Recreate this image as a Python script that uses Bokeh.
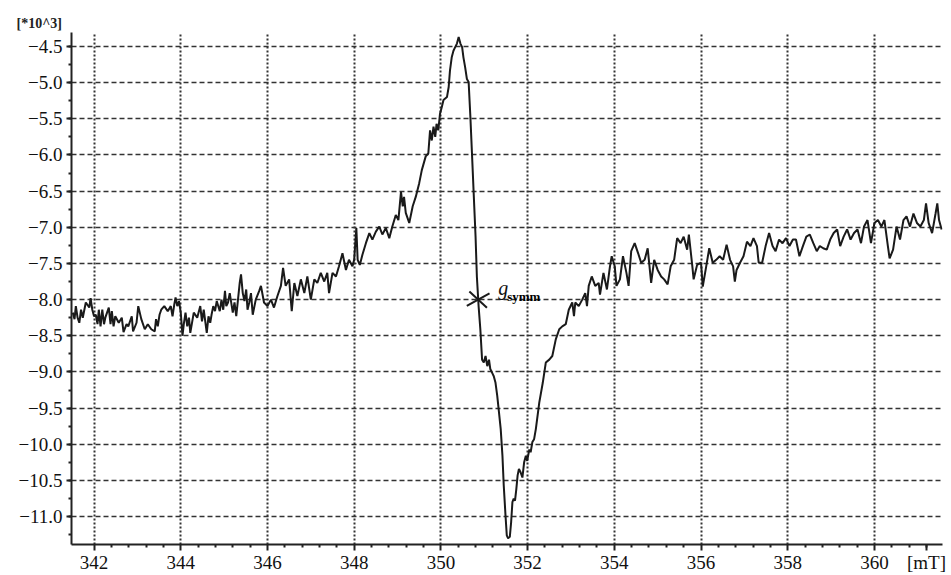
from bokeh.plotting import figure
from bokeh.models import SingleIntervalTicker, FixedTicker, Label, Range1d
from bokeh.embed import file_html
from bokeh.resources import INLINE

# ---- data (field in mT, signal in units of 10^3) ----
baseline_low = [
    (341.51, -8.18), (341.55, -8.27), (341.58, -8.09), (341.62, -8.25), (341.66, -8.32), (341.70, -8.14), (341.74, -8.25), (341.81, -8.04), (341.89, -8.11), (341.92, -7.98),
    (341.96, -8.14), (342.00, -8.23), (342.04, -8.21), (342.08, -8.34), (342.11, -8.14), (342.15, -8.37), (342.19, -8.14), (342.23, -8.34), (342.26, -8.25), (342.34, -8.11),
    (342.38, -8.34), (342.41, -8.16), (342.45, -8.37), (342.49, -8.23), (342.57, -8.32), (342.64, -8.25), (342.68, -8.45), (342.75, -8.34), (342.79, -8.37), (342.87, -8.23),
    (342.90, -8.44), (342.98, -8.32), (343.02, -8.09), (343.09, -8.27), (343.17, -8.41), (343.24, -8.34), (343.32, -8.41), (343.40, -8.44), (343.43, -8.27), (343.47, -8.37),
    (343.51, -8.21), (343.55, -8.14), (343.62, -8.09), (343.70, -8.16), (343.77, -8.09), (343.81, -8.23), (343.85, -8.07), (343.88, -7.97), (343.92, -8.09), (343.96, -8.02),
    (344.00, -8.18), (344.04, -8.50), (344.07, -8.34), (344.11, -8.18), (344.15, -8.37), (344.19, -8.25), (344.22, -8.46), (344.30, -8.18), (344.38, -8.25), (344.45, -8.09),
    (344.49, -8.30), (344.53, -8.14), (344.60, -8.46), (344.64, -8.23), (344.68, -8.32), (344.71, -8.21), (344.75, -8.09), (344.79, -8.16), (344.83, -8.02), (344.90, -8.16),
    (344.94, -8.00), (344.98, -8.14), (345.02, -7.88), (345.05, -8.09), (345.09, -8.04), (345.13, -7.91), (345.20, -8.18), (345.24, -8.04), (345.28, -8.23), (345.32, -8.00),
    (345.36, -7.77), (345.39, -7.65), (345.43, -7.91), (345.47, -8.02), (345.51, -7.86), (345.54, -8.14), (345.58, -8.04), (345.62, -7.91), (345.66, -8.21), (345.73, -8.00),
    (345.81, -7.88),
]

rising_part = [
    (345.85, -7.81), (345.92, -8.04), (346.00, -8.09), (346.08, -8.00), (346.15, -8.11), (346.23, -7.95), (346.31, -7.81), (346.36, -7.56), (346.42, -7.81), (346.50, -7.72),
    (346.56, -8.16), (346.62, -7.77), (346.69, -7.95), (346.77, -7.72), (346.85, -7.91), (346.92, -7.68), (347.00, -8.00), (347.08, -7.72), (347.15, -7.77), (347.23, -7.63),
    (347.31, -7.75), (347.38, -7.63), (347.42, -7.91), (347.50, -7.63), (347.58, -7.68), (347.65, -7.54), (347.73, -7.36), (347.81, -7.59), (347.88, -7.45), (347.96, -7.54),
    (348.00, -7.45), (348.05, -7.01), (348.08, -7.45), (348.13, -7.52), (348.19, -7.38), (348.27, -7.22), (348.35, -7.08), (348.42, -7.17), (348.50, -7.06), (348.58, -6.99),
    (348.65, -7.10), (348.73, -7.01), (348.81, -7.15), (348.88, -6.99), (348.96, -6.83), (349.02, -6.90), (349.08, -6.51), (349.12, -6.71), (349.15, -6.58), (349.19, -6.80),
    (349.27, -6.94), (349.35, -6.71), (349.42, -6.58), (349.50, -6.39), (349.56, -6.21), (349.65, -6.02),
]

resonance = [
    (349.71, -5.98), (349.75, -5.66), (349.79, -5.80), (349.83, -5.61), (349.87, -5.75), (349.90, -5.57), (349.94, -5.66), (349.98, -5.43), (350.02, -5.34), (350.06, -5.24),
    (350.10, -5.22), (350.14, -5.20), (350.18, -5.06), (350.21, -4.83), (350.25, -4.65), (350.29, -4.56), (350.33, -4.51), (350.37, -4.46), (350.41, -4.37), (350.45, -4.46),
    (350.49, -4.51), (350.52, -4.65), (350.56, -4.79), (350.60, -4.95), (350.64, -4.99), (350.68, -5.47), (350.72, -6.02), (350.76, -6.58), (350.80, -7.13), (350.83, -7.68),
    (350.87, -8.09), (350.91, -8.41), (350.95, -8.83), (350.99, -8.87), (351.03, -8.78), (351.07, -8.92), (351.11, -8.83), (351.14, -8.96), (351.18, -9.01), (351.22, -9.06),
    (351.26, -9.15), (351.30, -9.33), (351.34, -9.56), (351.38, -9.79), (351.42, -10.16), (351.45, -10.57), (351.49, -10.98), (351.52, -11.26), (351.55, -11.30), (351.59, -11.28),
    (351.62, -11.08), (351.65, -10.80), (351.68, -10.75), (351.71, -10.78), (351.74, -10.62), (351.77, -10.43), (351.80, -10.34), (351.84, -10.39), (351.88, -10.46), (351.92, -10.25),
    (351.96, -10.16), (351.99, -10.23), (352.04, -10.07), (352.07, -10.11), (352.11, -9.97), (352.15, -9.93), (352.19, -9.79), (352.27, -9.42), (352.35, -9.15), (352.42, -8.87),
]

recovery = [
    (352.50, -8.83), (352.57, -8.78), (352.65, -8.55), (352.73, -8.41), (352.80, -8.37), (352.88, -8.34), (352.95, -8.14), (353.03, -8.04), (353.07, -8.23), (353.10, -8.04),
    (353.18, -8.09), (353.26, -8.00), (353.33, -7.91), (353.37, -8.09), (353.41, -7.81), (353.48, -7.68), (353.56, -7.81), (353.64, -7.77), (353.67, -7.93), (353.75, -7.63),
    (353.83, -7.86), (353.90, -7.54), (353.94, -7.40), (354.01, -7.54), (354.05, -7.81), (354.13, -7.72), (354.20, -7.40), (354.28, -7.63), (354.33, -7.81), (354.39, -7.33),
    (354.47, -7.22), (354.55, -7.36), (354.62, -7.49), (354.70, -7.45), (354.77, -7.29), (354.85, -7.77), (354.92, -7.45), (355.00, -7.59), (355.08, -7.68), (355.15, -7.72),
    (355.23, -7.79), (355.30, -7.54), (355.38, -7.45), (355.45, -7.15), (355.53, -7.22), (355.60, -7.13), (355.68, -7.31), (355.72, -7.10), (355.80, -7.54), (355.83, -7.72),
    (355.91, -7.52),
]

baseline_high = [
    (356.00, -7.49), (356.04, -7.82), (356.12, -7.54), (356.19, -7.29), (356.27, -7.49), (356.35, -7.45), (356.43, -7.40), (356.51, -7.45), (356.59, -7.24), (356.67, -7.45),
    (356.74, -7.54), (356.78, -7.75), (356.82, -7.59), (356.90, -7.49), (356.98, -7.40), (357.06, -7.20), (357.14, -7.26), (357.21, -7.15), (357.29, -7.26), (357.33, -7.49),
    (357.41, -7.49), (357.49, -7.26), (357.57, -7.08), (357.65, -7.26), (357.72, -7.33), (357.80, -7.17), (357.88, -7.22), (357.96, -7.15), (358.04, -7.26), (358.12, -7.17),
    (358.19, -7.17), (358.27, -7.40), (358.35, -7.26), (358.43, -7.13), (358.51, -7.10), (358.59, -7.22), (358.67, -7.33), (358.74, -7.26), (358.82, -7.29), (358.90, -7.31),
    (358.98, -7.17), (359.06, -7.08), (359.14, -7.03), (359.21, -7.26), (359.29, -7.13), (359.37, -7.03), (359.45, -7.17), (359.53, -7.08), (359.61, -7.03), (359.69, -7.22),
    (359.76, -6.99), (359.84, -6.90), (359.92, -7.22), (360.00, -6.94), (360.08, -6.90), (360.16, -6.99), (360.23, -6.90), (360.31, -7.26), (360.35, -7.43), (360.43, -7.31),
    (360.51, -6.99), (360.59, -7.17), (360.67, -6.90), (360.74, -6.85), (360.82, -6.99), (360.90, -6.81), (360.98, -6.94), (361.06, -6.99), (361.14, -6.90), (361.19, -6.67),
    (361.25, -6.94), (361.33, -7.08), (361.41, -6.81), (361.45, -6.67), (361.49, -6.90), (361.55, -7.03),
]

g_symm_field = [350.86]
g_symm_signal = [-8.0]

x_tick_values = [342, 344, 346, 348, 350, 352, 354, 356, 358, 360]
x_tick_labels = ["342", "344", "346", "348", "350", "352", "354", "356", "358", "360"]
y_tick_values = [-4.5, -5.0, -5.5, -6.0, -6.5, -7.0, -7.5, -8.0, -8.5, -9.0, -9.5, -10.0, -10.5, -11.0]
y_tick_labels = ["−4.5", "−5.0", "−5.5", "−6.0", "−6.5", "−7.0", "−7.5", "−8.0", "−8.5",
                 "−9.0", "−9.5", "−10.0", "−10.5", "−11.0"]
scale_label = "[*10^3]"
unit_label = "[mT]"
unit_label_at = 361.2

# ---- assemble ----
trace = baseline_low + rising_part + resonance + recovery + baseline_high
field = [t[0] for t in trace]
signal = [t[1] for t in trace]

X0, X1 = 341.48, 361.57
Y0, Y1 = -11.386, -4.307

FONT = "Liberation Serif"
INK = "#1a1a1a"

p = figure(width=951, height=575, output_backend="svg", toolbar_location=None,
           x_range=Range1d(X0, X1), y_range=Range1d(Y0, Y1),
           min_border_left=71, min_border_right=9, min_border_top=32, min_border_bottom=29)
p.outline_line_color = None
p.background_fill_color = "white"
p.border_fill_color = "white"

# title used as the "[*10^3]" scale note in the top-left corner
p.title.text = scale_label
p.title.align = "left"
p.title.offset = -55
p.title.standoff = 3
p.title.text_font = FONT
p.title.text_font_style = "bold"
p.title.text_font_size = "14px"
p.title.text_color = "#222222"

minor_x = [v + 0.4 * k for v in x_tick_values for k in (1, 2, 3, 4)]
xt = FixedTicker(ticks=x_tick_values + [unit_label_at], minor_ticks=minor_x)
xgt = FixedTicker(ticks=x_tick_values)
yt = SingleIntervalTicker(interval=0.5, num_minor_ticks=2)
p.xaxis.ticker = xt
p.yaxis.ticker = yt
p.xgrid.ticker = xgt
p.ygrid.ticker = yt

for ax in (p.xaxis[0], p.yaxis[0]):
    ax.axis_line_color = "#222222"
    ax.axis_line_width = 2
    ax.major_tick_line_color = "#222222"
    ax.major_tick_line_width = 2
    ax.major_tick_in = 0
    ax.minor_tick_line_color = "#222222"
    ax.minor_tick_line_width = 2
    ax.minor_tick_in = 0
    ax.minor_tick_out = 3
    ax.major_label_text_font = FONT
    ax.major_label_text_font_size = "19px"
    ax.major_label_text_color = "#111111"

p.xaxis.major_tick_out = 6
p.xaxis.major_label_standoff = 1
labels_x = {v: s for v, s in zip(x_tick_values, x_tick_labels)}
labels_x[unit_label_at] = unit_label
p.xaxis.major_label_overrides = labels_x
p.yaxis.major_tick_out = 5
p.yaxis.major_label_standoff = 4
p.yaxis.major_label_overrides = {v: s for v, s in zip(y_tick_values, y_tick_labels)}

p.xgrid.grid_line_color = "#333333"
p.xgrid.grid_line_width = 2
p.xgrid.grid_line_dash = "2 2"
p.ygrid.grid_line_color = "#333333"
p.ygrid.grid_line_width = 1.6
p.ygrid.grid_line_dash = "5 3"

p.line(field, signal, line_color=INK, line_width=2)

# g_symm cross
p.scatter(g_symm_field, g_symm_signal, marker="dash", size=24, angle=-0.75,
          line_color=INK, line_width=2)
p.scatter(g_symm_field, g_symm_signal, marker="dash", size=26, angle=0.51,
          line_color=INK, line_width=2)

p.add_layout(Label(x=g_symm_field[0], y=g_symm_signal[0], x_offset=20, y_offset=12,
                   text="g", text_font=FONT, text_font_style="italic",
                   text_font_size="20px", text_color="#111111",
                   text_align="left", text_baseline="alphabetic"))
p.add_layout(Label(x=g_symm_field[0], y=g_symm_signal[0], x_offset=29, y_offset=3,
                   text="symm", text_font=FONT, text_font_style="bold",
                   text_font_size="13px", text_color="#000000",
                   text_align="left", text_baseline="alphabetic"))

open("out.html", "w").write(file_html(p, INLINE))
